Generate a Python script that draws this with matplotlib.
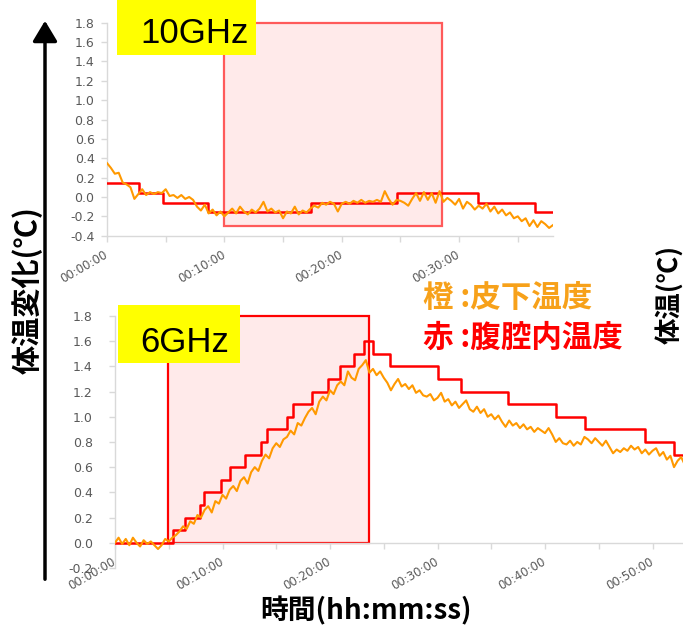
import numpy as np
import matplotlib
matplotlib.use("Agg")
import matplotlib.pyplot as plt
from matplotlib.patches import Rectangle, FancyArrowPatch

W, H = 683, 625

# sampling interval of the logger (minutes)
STEP = 1 / 3

# 10GHz run: subcutaneous temperature change, every 20 s
skin_10 = [
    0.35, 0.30, 0.24, 0.25, 0.15, 0.13, 0.10, -0.02, 0.03, 0.08, 0.02, 0.05,
    0.03, 0.05, 0.04, 0.08, 0.01, 0.02, -0.01, 0.02, -0.02, 0.00, -0.03, -0.10,
    -0.14, -0.08, -0.17, -0.13, -0.19, -0.15, -0.20, -0.16, -0.12, -0.17, -0.10, -0.15,
    -0.18, -0.13, -0.16, -0.12, -0.05, -0.15, -0.12, -0.16, -0.14, -0.22, -0.15, -0.17,
    -0.10, -0.18, -0.14, -0.16, -0.12, -0.09, -0.11, -0.06, -0.08, -0.05, -0.07, -0.15,
    -0.07, -0.05, -0.07, -0.04, -0.06, -0.03, -0.06, -0.04, -0.05, -0.03, -0.05, 0.06,
    -0.02, -0.08, -0.03, -0.04, -0.06, -0.09, -0.02, 0.04, -0.04, 0.05, -0.03, 0.04,
    -0.06, 0.06, -0.05, -0.01, -0.04, -0.08, -0.02, -0.12, -0.05, -0.08, -0.13, -0.09,
    -0.12, -0.07, -0.15, -0.10, -0.17, -0.13, -0.19, -0.16, -0.22, -0.20, -0.25, -0.22,
    -0.30, -0.24, -0.31, -0.25, -0.28, -0.32, -0.29,
]
# 10GHz run: intraperitoneal temperature change (0.1 degC resolution steps)
core_10_t = [0, 2.7, 4.8, 8.6, 17.4, 24.7, 31.6, 36.5, 38.0]
core_10_v = [0.14, 0.04, -0.06, -0.16, -0.06, 0.04, -0.06, -0.16, -0.16]
expo_10 = (10.0, 28.5)

# 6GHz run
skin_6 = [
    0.00, 0.04, -0.01, 0.03, -0.02, 0.04, 0.00, -0.03, 0.02, -0.01, 0.01, -0.02,
    -0.05, -0.02, 0.03, 0.01, 0.04, 0.06, 0.09, 0.13, 0.11, 0.17, 0.15, 0.22,
    0.20, 0.26, 0.29, 0.24, 0.33, 0.31, 0.38, 0.35, 0.42, 0.45, 0.41, 0.49,
    0.52, 0.47, 0.56, 0.60, 0.57, 0.65, 0.70, 0.67, 0.75, 0.79, 0.76, 0.82,
    0.84, 0.89, 0.86, 0.95, 0.93, 0.99, 1.04, 1.07, 1.02, 1.12, 1.16, 1.13,
    1.21, 1.18, 1.25, 1.28, 1.25, 1.36, 1.31, 1.29, 1.38, 1.41, 1.45, 1.35,
    1.38, 1.33, 1.36, 1.31, 1.27, 1.21, 1.26, 1.30, 1.24, 1.26, 1.22, 1.25,
    1.19, 1.21, 1.17, 1.16, 1.18, 1.13, 1.15, 1.19, 1.12, 1.14, 1.09, 1.12,
    1.07, 1.10, 1.13, 1.06, 1.04, 1.08, 1.03, 1.06, 1.00, 1.02, 0.98, 1.01,
    0.96, 0.92, 0.97, 0.93, 0.95, 0.91, 0.94, 0.90, 0.92, 0.88, 0.91, 0.89,
    0.87, 0.91, 0.86, 0.80, 0.83, 0.79, 0.78, 0.81, 0.77, 0.80, 0.78, 0.84,
    0.82, 0.79, 0.83, 0.80, 0.77, 0.81, 0.76, 0.71, 0.74, 0.72, 0.75, 0.73,
    0.77, 0.74, 0.76, 0.71, 0.74, 0.70, 0.73, 0.75, 0.69, 0.72, 0.66, 0.69,
    0.60, 0.65, 0.68, 0.62, 0.66, 0.63, 0.67, 0.64, 0.66, 0.63,
]
core_6_t = [0, 5.4, 6.5, 7.9, 8.3, 9.9, 10.7, 12.1, 13.6, 14.1, 16.0, 16.6, 18.3,
            19.8, 20.9, 22.2, 23.2, 24.0, 25.6, 30.0, 32.2, 36.6, 41.0, 43.7,
            49.3, 52.0, 55.0]
core_6_v = [0.0, 0.1, 0.2, 0.3, 0.4, 0.5, 0.6, 0.7, 0.8, 0.9, 1.0, 1.1, 1.2,
            1.3, 1.4, 1.5, 1.6, 1.5, 1.4, 1.3, 1.2, 1.1, 1.0, 0.9,
            0.8, 0.7, 0.7]
expo_6 = (4.9, 23.6)

ORANGE = "#FF9900"
RED = "#FF0000"
GRID = "#D9D9D9"
TICK_TXT = "#595959"
JP = ["Noto Sans CJK JP", "DejaVu Sans"]


def px(x, y):
    return x / W, 1 - y / H


def fmt_time(m):
    return f"00:{int(m):02d}:00" if m % 10 == 0 else ""


def style_axes(ax, ymin, ymax, xmax, xcross):
    ax.set_xlim(0, xmax)
    ax.set_ylim(ymin, ymax)
    ax.patch.set_alpha(0)
    for s in ("top", "right"):
        ax.spines[s].set_visible(False)
    for s in ("left", "bottom"):
        ax.spines[s].set_color(GRID)
        ax.spines[s].set_linewidth(1.0)
    ax.spines["bottom"].set_position(("data", xcross))
    yt = np.round(np.arange(ymin, ymax + 0.01, 0.2), 1)
    ax.set_yticks(yt)
    ax.set_yticklabels([f"{v:.1f}" if abs(v) > 1e-9 else "0.0" for v in yt])
    xt = np.arange(0, xmax + 0.01, 5)
    ax.set_xticks(xt)
    ax.set_xticklabels([fmt_time(m) for m in xt], rotation=30,
                       ha="right", va="center", rotation_mode="anchor")
    ax.tick_params(axis="both", colors=GRID, length=4, width=1,
                   labelcolor=TICK_TXT)
    ax.tick_params(axis="y", labelsize=9)
    ax.tick_params(axis="x", labelsize=8.5, pad=9)


def draw_run(ax, skin, core_t, core_v, expo, box_bottom, edge):
    t = np.arange(len(skin)) * STEP
    ax.add_patch(Rectangle((expo[0], box_bottom), expo[1] - expo[0], 1.8 - box_bottom,
                           facecolor=(1, 0.2, 0.2, 0.1), edgecolor=edge,
                           linewidth=1.6, zorder=1, clip_on=False))
    ax.plot(core_t, core_v, color=RED, lw=1.8, drawstyle="steps-post", zorder=3)
    ax.plot(t, skin, color=ORANGE, lw=1.5, zorder=4)


fig = plt.figure(figsize=(W / 100, H / 100), dpi=100)

# 10GHz panel
ax1 = fig.add_axes([107 / W, 1 - 235.7 / H, 446 / W, 213 / H])
style_axes(ax1, -0.4, 1.8, 38, -0.4)
ax1.tick_params(axis="y", pad=5)
draw_run(ax1, skin_10, core_10_t, core_10_v, expo_10, -0.3, "#FF5A5A")

# 6GHz panel
ax2 = fig.add_axes([115 / W, 1 - 567.9 / H, 56 * 10.75 / W, 251.9 / H])
style_axes(ax2, -0.2, 1.8, 56, 0.0)
ax2.tick_params(axis="y", pad=12)
draw_run(ax2, skin_6, core_6_t, core_6_v, expo_6, 0.0, RED)

# frequency tags
for (x0, y0, x1, y1), label, base in [((117, 0, 256, 55), "10GHz", 43),
                                       ((118, 305, 240, 363), "6GHz", 352)]:
    fig.add_artist(Rectangle(px(x0, y1), (x1 - x0) / W, (y1 - y0) / H,
                             transform=fig.transFigure, facecolor="#FFFF00",
                             edgecolor="none", zorder=5))
    fig.text(*px(140, base), label, fontsize=25, family="Liberation Sans",
             ha="left", va="baseline", color="black", zorder=6)

# legend text
fig.text(*px(423, 298), "橙 :皮下温度", color="#F7A11A", fontsize=22,
         fontweight="bold", family=JP, ha="left", va="center")
fig.text(*px(423, 338), "赤 :腹腔内温度", color=RED, fontsize=22,
         fontweight="bold", family=JP, ha="left", va="center")

# shared y arrow and axis titles
fig.add_artist(FancyArrowPatch(px(45, 582), px(45, 18), transform=fig.transFigure,
                               arrowstyle="-|>,head_length=0.5,head_width=0.3",
                               mutation_scale=25, lw=2.5, color="black"))
fig.text(*px(27, 290), "体温変化(℃)", rotation=90, fontsize=21, fontweight="bold",
         family=JP, ha="center", va="center")
fig.text(*px(669, 294), "体温(℃)", rotation=90, fontsize=19, fontweight="bold",
         family=JP, ha="center", va="center")
fig.text(*px(366, 611), "時間(hh:mm:ss)", fontsize=20, fontweight="bold",
         family=JP, ha="center", va="center")

fig.savefig("out.png", dpi=100)
